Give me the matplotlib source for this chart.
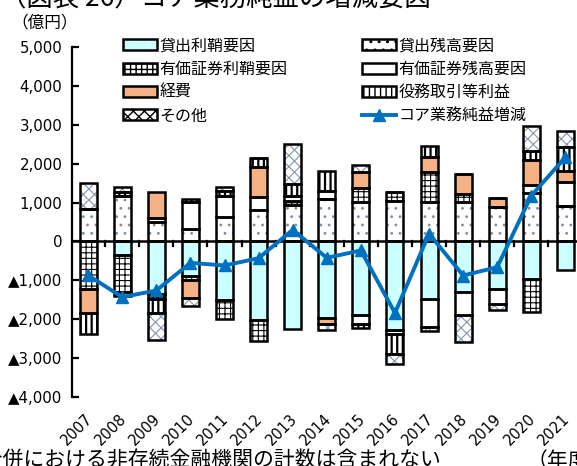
import numpy as np
import matplotlib
matplotlib.use("Agg")
import matplotlib.pyplot as plt
from matplotlib.patches import Patch
from matplotlib.lines import Line2D
from matplotlib.transforms import blended_transform_factory

plt.rcParams["font.family"] = ["Noto Sans CJK JP", "DejaVu Sans"]

years = ["2007", "2008", "2009", "2010", "2011", "2012", "2013", "2014",
         "2015", "2016", "2017", "2018", "2019", "2020", "2021"]

# 億円
loan_margin = [0, -360, -1360, -875, -1516, -2010, -2250, -1960, -1900, -2270, -1470, -1300, -1220, -960, -745]
loan_volume = [840, 1180, 500, 330, 625, 810, 950, 1100, 1010, 1050, 1010, 1010, 880, 1240, 900]
sec_margin = [-1215, -940, -120, -125, -470, -560, 80, 0, 370, 220, 770, 215, 0, -860, 0]
sec_volume = [0, 0, 110, 680, 557, 340, 140, 210, -215, -120, -730, -600, -380, 225, 625]
expenses = [-625, -90, 660, -457, 0, 770, 0, -173, 400, 0, 385, 515, 240, 635, 275]
fees = [-530, 80, -360, 90, 120, 220, 310, 515, -100, -500, 300, 0, 0, 240, 625]
other = [660, 150, -690, -190, 90, 0, 1020, -137, 190, -260, -110, -690, -170, 640, 425]
core_change = [-870, -1430, -1260, -550, -617, -430, 300, -420, -230, -1840, 200, -875, -660, 1180, 2167]

series = [
    ("貸出利鞘要因", loan_margin, "#CCFFFF", "", "black"),
    ("貸出残高要因", loan_volume, "white", "..", "#7F8FA6"),
    ("有価証券利鞘要因", sec_margin, "white", "+++", "black"),
    ("有価証券残高要因", sec_volume, "white", "", "black"),
    ("経費", expenses, "#F4B183", "", "black"),
    ("役務取引等利益", fees, "white", "|||", "black"),
    ("その他", other, "white", "xxx", "#8496B0"),
]

fig = plt.figure(figsize=(5.77, 4.66), dpi=100)
ax = fig.add_axes([0.125, 0.148, 0.875, 0.751])

x = np.arange(len(years))
w = 0.5
pos_bottom = np.zeros(len(years))
neg_bottom = np.zeros(len(years))
handles = {}
for name, vals, fc, hatch, hc in series:
    v = np.array(vals, dtype=float)
    bottom = np.where(v >= 0, pos_bottom, neg_bottom)
    with plt.rc_context({"hatch.linewidth": 1.6 if hatch == "|||" else 0.8}):
        ax.bar(x, v, w, bottom=bottom, color=fc, hatch=hatch, edgecolor=hc,
               linewidth=0, zorder=2)
    ax.bar(x, v, w, bottom=bottom, fill=False, edgecolor="black",
           linewidth=1.8, zorder=3)
    pos_bottom += np.where(v >= 0, v, 0)
    neg_bottom += np.where(v < 0, v, 0)
    handles[name] = Patch(facecolor=fc, hatch=hatch, edgecolor="black", linewidth=1.8)

ax.plot(x, core_change, color="#0070C0", linewidth=2.8, marker="^",
        markersize=9, zorder=4)
line_handle = Line2D([], [], color="#0070C0", linewidth=2.8, marker="^", markersize=8)

ax.axhline(0, color="black", linewidth=1.8, zorder=3)
ax.set_xlim(-0.47, 14.34)
ax.set_ylim(-4000, 5000)

for s in ["top", "right", "bottom"]:
    ax.spines[s].set_visible(False)
ax.spines["left"].set_linewidth(1.6)

yt = np.arange(-4000, 5001, 1000)
ax.set_yticks(yt)
ax.set_yticklabels([f"{v:,}" if v >= 0 else f"▲{-v:,}" for v in yt],
                   fontsize=10.8, family="DejaVu Sans")
ax.tick_params(axis="y", direction="in", length=5, width=1.6, pad=7)
ax.set_xticks([])

# category separators on the zero line
for i in range(len(years)):
    ax.plot([i + 0.5, i + 0.5], [0, -110], color="black", linewidth=1.6, zorder=3)

trans = blended_transform_factory(ax.transData, ax.transAxes)
for i, yr in enumerate(years):
    ax.text(i - 0.1, -0.04, yr, transform=trans, rotation=45, ha="right",
            va="top", fontsize=10.5, family="DejaVu Sans", rotation_mode="anchor")

order = ["貸出利鞘要因", "有価証券利鞘要因", "経費", "その他",
         "貸出残高要因", "有価証券残高要因", "役務取引等利益"]
leg = ax.legend([handles[k] for k in order] + [line_handle],
                order + ["コア業務純益増減"], ncol=2, frameon=False,
                fontsize=11.5, loc="upper left", bbox_to_anchor=(0.073, 1.069),
                handlelength=2.1, handleheight=0.7, handletextpad=0.15,
                labelspacing=0.4, columnspacing=4.7)

fig.text(0.0, 1.003, "（図表 26）コア業務純益の増減要因", fontsize=19, va="center")
fig.text(0.02, 0.950, "（億円）", fontsize=12, va="center")
fig.text(441 / 577, 1.0 - 450 / 466, "（注）合併における非存続金融機関の計数は含まれない",
         fontsize=15, ha="right", va="top")
fig.text(527 / 577, 1.0 - 450 / 466, "（年度）", fontsize=15, va="top")

fig.savefig("out.png", dpi=100)
